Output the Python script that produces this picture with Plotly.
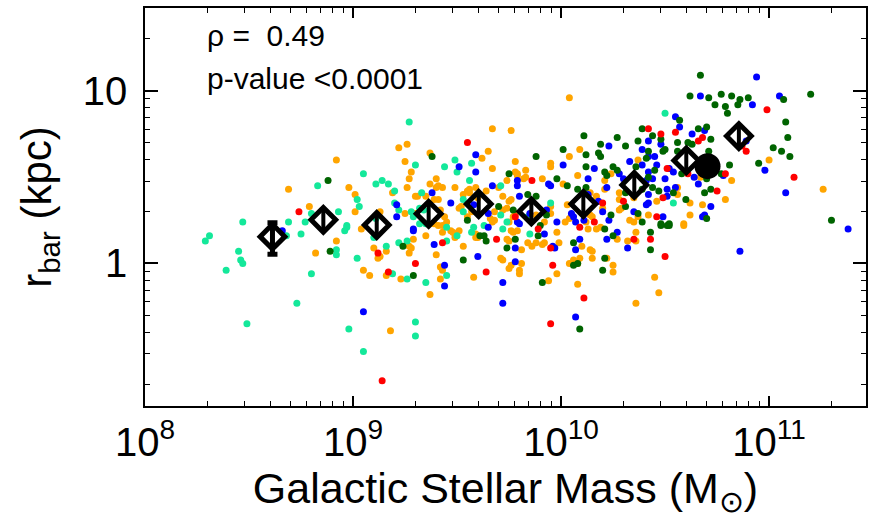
import plotly.graph_objects as go

# ---- scatter data (log10 stellar mass [Msun], log10 r_bar [kpc]) ----
orange_logm = [9.26,9.22,8.92,9.25,9.28,9.27,9.26,8.98,9.01,9.19,8.69,9.30,9.25,9.01,8.79,9.13,
    8.82,8.92,9.04,9.05,9.08,9.10,9.13,9.12,9.16,9.16,9.27,9.28,9.27,9.29,9.23,9.18,
    9.37,9.40,9.37,9.40,9.43,9.41,9.49,9.56,9.59,9.35,9.31,9.39,9.41,9.51,9.53,9.30,9.35,9.41,9.43,9.39,9.43,9.47,9.49,9.49,9.53,9.59,9.58,9.40,9.43,9.42,9.42,9.37,
    10.04,9.67,9.76,10.09,10.04,9.95,9.95,10.37,9.62,9.65,9.67,9.78,9.83,9.78,9.79,9.79,9.74,9.82,9.91,10.01,10.08,10.14,10.21,10.24,10.21,10.28,10.29,10.35,10.37,
    9.75,9.76,9.72,9.70,9.64,9.60,9.68,9.72,9.74,9.77,9.78,9.75,9.68,9.67,9.66,9.88,9.95,9.95,9.92,10.03,10.02,10.04,10.17,10.20,10.28,10.28,10.15,10.14,10.12,10.33,10.35,
    9.55,9.56,9.52,9.55,9.57,9.42,9.44,9.45,9.83,
    9.59,9.60,9.48,9.51,9.71,9.72,9.75,9.76,9.80,9.81,9.80,9.74,9.75,9.77,9.79,9.76,9.81,9.84,9.86,9.88,9.91,9.92,9.99,9.98,9.98,9.94,
    10.04,10.06,10.08,10.09,10.10,10.08,10.14,10.15,10.15,10.13,10.17,10.19,10.22,10.25,10.25,10.27,10.32,10.36,10.36,10.36,
    11.00,11.26,10.67,10.82,10.56,10.56,10.46,10.62,10.79,10.68,10.62,10.59,10.42,10.45,10.47,10.59]
orange_logr = [0.69,0.67,0.60,0.59,0.53,0.49,0.44,0.44,0.40,0.41,0.43,0.39,0.29,0.30,0.33,0.30,
    0.06,0.13,0.20,-0.04,-0.07,0.09,0.04,0.03,0.07,-0.07,0.10,0.09,0.06,0.14,-0.09,-0.39,
    0.64,0.49,0.46,0.44,0.44,0.45,0.44,0.43,0.44,0.39,0.39,0.37,0.37,0.32,0.40,0.29,0.16,0.22,0.22,0.23,0.18,0.19,0.17,0.15,0.10,0.15,-0.08,0.05,-0.04,-0.02,-0.09,-0.18,
    0.96,0.78,0.77,0.66,0.62,0.58,0.56,0.60,0.61,0.65,0.55,0.59,0.54,0.53,0.52,0.51,0.48,0.49,0.49,0.46,0.51,0.41,0.48,0.52,0.43,0.41,0.32,0.38,0.27,
    0.36,0.37,0.39,0.44,0.42,0.38,0.30,0.31,0.32,0.27,0.29,0.24,0.25,0.24,0.26,0.28,0.33,0.29,0.24,0.34,0.24,0.26,0.39,0.32,0.37,0.31,0.27,0.28,0.24,0.25,0.24,
    0.42,0.41,0.33,0.27,0.30,0.31,0.27,0.24,0.50,
    0.17,0.15,0.18,0.19,0.03,0.02,-0.03,-0.01,-0.04,0.00,-0.06,0.14,0.13,0.18,0.19,0.19,0.08,0.12,0.10,0.12,0.11,0.12,0.12,0.18,-0.06,-0.10,
    0.00,0.02,0.00,0.03,0.10,-0.12,0.08,0.07,0.03,0.20,0.20,0.21,0.03,-0.01,-0.05,0.14,0.13,0.13,0.18,-0.23,
    0.60,0.43,0.50,0.48,0.44,0.40,0.36,0.35,0.37,0.34,0.28,0.23,0.28,-0.08,-0.17,0.22]

sgreen_logm = [9.27,9.30,9.05,8.83,9.11,9.14,9.17,9.02,9.20,9.20,9.22,9.03,8.93,8.80,8.69,8.77,8.47,8.97,9.28,9.29,9.11,
    8.31,8.29,8.68,8.75,8.45,8.46,8.47,8.39,8.80,8.92,8.92,8.96,8.97,9.02,9.10,9.16,9.19,9.22,9.26,9.26,8.73,8.49,8.98,9.30,9.30,9.05,
    9.44,9.50,9.49,9.57,9.56,9.53,9.32,9.34,9.35,9.32,9.45,9.45,9.50,9.45,9.35,9.33,
    9.71,9.71,9.74,9.84,9.95,9.57,9.85,10.50,10.54,9.53,9.58,9.63,9.72]
sgreen_logr = [0.82,0.57,0.52,0.45,0.46,0.48,0.46,0.37,0.42,0.35,0.31,0.33,0.30,0.29,0.24,0.24,0.24,0.22,0.30,0.27,0.26,
    0.16,0.13,0.16,0.17,0.07,0.02,0.00,-0.04,-0.06,0.08,0.05,0.19,0.21,0.03,0.15,0.10,-0.06,0.12,0.13,-0.09,-0.23,-0.35,-0.38,-0.34,-0.42,-0.51,
    0.56,0.53,0.60,0.58,0.48,0.30,0.32,0.31,0.23,0.23,0.21,0.13,0.16,-0.07,-0.11,0.41,
    0.45,0.28,0.24,0.27,0.35,0.18,0.17,0.87,0.35,0.37,0.21,0.22,0.20]

blue_logm = [9.21,9.21,8.66,9.29,9.05,
    9.51,9.59,9.59,9.38,9.47,9.29,9.39,9.60,9.44,9.44,
    10.23,10.39,10.01,10.16,10.33,10.39,9.79,9.79,9.94,9.95,10.13,10.22,10.28,10.30,10.35,9.80,9.67,9.65,9.79,9.80,9.85,9.93,9.98,10.13,10.18,10.20,10.05,10.06,10.11,10.07,10.23,9.58,
    9.72,9.72,9.78,9.78,9.92,9.97,9.96,10.09,10.07,10.07,10.27,10.22,10.32,
    10.94,10.67,10.92,11.05,10.98,11.08,10.55,10.57,10.63,10.69,10.89,10.42,10.48,10.42,10.45,10.46,10.42,10.52,10.54,10.64,10.66,10.78,10.50,10.51,10.55,10.51,10.42,10.42,10.41,10.72,10.68,10.69,10.49,10.41,10.44,
    11.38,10.86,9.65]
blue_logr = [0.34,0.27,0.19,0.19,-0.28,
    0.56,0.63,0.53,0.41,0.35,0.20,0.11,0.04,-0.01,-0.13,
    0.68,0.66,0.57,0.55,0.59,0.57,0.48,0.45,0.46,0.45,0.49,0.44,0.52,0.49,0.30,0.39,0.45,0.29,0.24,0.23,0.29,0.31,0.24,0.40,0.36,0.30,0.29,0.27,0.25,0.24,0.25,0.34,
    -0.11,-0.23,0.01,0.09,0.17,0.09,0.10,0.14,0.08,-0.31,0.18,0.14,0.09,
    1.08,0.97,0.92,0.97,0.54,0.41,0.85,0.79,0.75,0.77,0.71,0.71,0.69,0.62,0.62,0.57,0.53,0.55,0.53,0.50,0.46,0.51,0.49,0.43,0.44,0.39,0.40,0.35,0.34,0.33,0.27,0.28,0.27,0.48,0.49,
    0.20,0.07,0.21]

dgreen_logm = [8.88,8.89,9.24,9.29,9.38,9.55,9.53,
    10.11,10.01,10.19,10.27,10.31,10.39,10.37,10.12,10.18,10.19,9.88,10.12,10.21,10.25,10.36,9.75,9.98,10.03,10.12,10.22,10.27,10.31,10.31,10.39,10.37,10.39,9.88,9.84,9.70,9.93,10.08,10.24,
    9.91,9.64,9.61,9.63,9.74,9.78,10.06,10.08,10.06,10.09,10.21,10.21,10.20,10.25,
    10.67,10.62,10.71,10.77,10.82,10.86,10.85,10.90,10.74,10.79,10.80,11.07,11.20,11.08,11.09,11.06,11.02,11.10,10.95,11.30,
    10.57,10.66,10.70,10.72,10.61,10.63,10.56,10.44,10.48,10.50,10.49,10.56,10.71,10.42,10.41,10.45,10.58,10.70,10.77,10.81,10.42,10.47,10.54,10.60,10.69,10.72,10.70,10.48,10.52,
    10.43,10.43,10.48,10.51,10.52,10.44,9.90,9.77,9.89]
dgreen_logr = [0.48,0.07,0.10,-0.07,0.62,0.25,0.02,
    0.74,0.66,0.69,0.73,0.68,0.78,0.71,0.63,0.64,0.62,0.62,0.56,0.53,0.56,0.56,0.52,0.49,0.45,0.44,0.51,0.54,0.41,0.33,0.43,0.29,0.24,0.39,0.40,0.33,0.28,0.43,0.28,
    -0.11,0.13,0.16,0.16,0.09,0.14,-0.01,0.00,0.12,-0.38,0.20,0.03,-0.04,0.16,
    1.09,0.97,0.96,0.98,0.97,0.95,0.92,0.96,0.92,0.91,0.87,0.95,0.98,0.82,0.73,0.65,0.67,0.62,0.58,0.25,
    0.83,0.78,0.79,0.72,0.70,0.69,0.70,0.74,0.72,0.66,0.65,0.65,0.65,0.65,0.61,0.54,0.52,0.49,0.52,0.57,0.50,0.42,0.41,0.37,0.41,0.43,0.26,0.23,0.23,
    0.18,0.08,0.22,0.22,0.22,0.44,0.22,0.31,0.16]

red_logm = [8.74,9.12,9.17,9.30,9.14,9.55,9.43,
    9.86,10.30,9.78,10.20,10.16,
    9.64,9.69,9.89,9.95,9.96,9.95,10.11,10.35,
    10.99,10.42,10.48,10.55,10.68,10.66,10.87,10.89,10.51,10.61,10.79,11.12,10.75,10.49,10.46,
    10.43,10.50,10.09]
red_logr = [0.30,0.06,-0.05,0.00,-0.68,0.70,0.12,
    0.48,0.36,0.27,0.35,0.24,
    -0.05,0.14,0.20,0.09,-0.01,-0.35,-0.20,0.14,
    0.89,0.78,0.75,0.76,0.73,0.71,0.68,0.65,0.55,0.52,0.52,0.50,0.42,0.38,0.27,
    0.14,0.04,0.21]

# ---- binned medians ----
bin_mass = [4.1e8, 7.2e8, 1.3e9, 2.31e9, 4.02e9, 7.2e9, 1.28e10, 2.25e10, 4.0e10, 7.16e10]
bin_r = [1.43, 1.79, 1.67, 1.94, 2.21, 2.00, 2.21, 2.85, 3.95, 5.47]
bin_err_up = [0.29, 0.26, 0.25, 0.29, 0.33, 0.30, 0.33, 0.42, 0.58, 0.81]
bin_err_dn = [0.30, 0.23, 0.22, 0.25, 0.29, 0.26, 0.29, 0.37, 0.51, 0.71]
big_mass = [5.06e10]
big_r = [3.66]

rho_text = "ρ =  0.49"
pval_text = "p-value <0.0001"

xtick_vals = [1e8, 1e9, 1e10, 1e11]
xtick_text = ["10<sup>8</sup>", "10<sup>9</sup>", "10<sup>10</sup>", "10<sup>11</sup>"]
ytick_vals = [1, 10]
ytick_text = ["1", "10"]

FONT = "Liberation Sans, Arial, Helvetica, sans-serif"

def lin(v):
    return [10 ** a for a in v]

fig = go.Figure()
series = [
    (orange_logm, orange_logr, "#FFA500"),
    (sgreen_logm, sgreen_logr, "#14E89A"),
    (blue_logm, blue_logr, "#0000FF"),
    (dgreen_logm, dgreen_logr, "#006400"),
    (red_logm, red_logr, "#FF0000"),
]
for lm, lr, col in series:
    fig.add_trace(go.Scatter(x=lin(lm), y=lin(lr), mode="markers",
                             marker=dict(size=7, color=col, line=dict(width=0)),
                             showlegend=False, hoverinfo="skip"))

fig.add_trace(go.Scatter(x=big_mass, y=big_r, mode="markers",
                         marker=dict(size=26, color="black"), showlegend=False))

diamond = dict(symbol="diamond-open", size=19, color="black", line=dict(width=5, color="black"))
# first bin: error bar with caps at the diamond's tips
fig.add_trace(go.Scatter(x=bin_mass[:1], y=bin_r[:1], mode="markers", marker=diamond,
                         error_y=dict(type="data", symmetric=False, array=bin_err_up[:1],
                                      arrayminus=bin_err_dn[:1], color="black",
                                      thickness=5, width=5),
                         showlegend=False))
# remaining bins: error bars inside the diamond
fig.add_trace(go.Scatter(x=bin_mass[1:], y=bin_r[1:], mode="markers", marker=diamond,
                         error_y=dict(type="data", symmetric=False, array=bin_err_up[1:],
                                      arrayminus=bin_err_dn[1:], color="black",
                                      thickness=4, width=0),
                         showlegend=False))

minor_x = [k * 10 ** e for e in range(8, 12) for k in range(2, 10)]
minor_y = [k * 10 ** e for e in range(-1, 2) for k in range(2, 10)]

fig.update_xaxes(type="log", range=[8, 11.466], showgrid=False, zeroline=False,
                 showline=True, linecolor="black", linewidth=1.5, mirror="allticks",
                 ticks="inside", ticklen=10, tickwidth=1.5, tickcolor="black",
                 tickmode="array", tickvals=xtick_vals, ticktext=xtick_text,
                 tickfont=dict(family=FONT, size=40, color="black"),
                 minor=dict(ticks="inside", ticklen=5, tickwidth=1.2, tickcolor="black",
                            tickmode="array", tickvals=minor_x, showgrid=False),
                 title=dict(text="Galactic Stellar Mass (M<sub>⊙</sub>)",
                            font=dict(family=FONT, size=43, color="black"), standoff=6))
fig.update_yaxes(type="log", range=[-0.826, 1.48], showgrid=False, zeroline=False,
                 showline=True, linecolor="black", linewidth=1.5, mirror="allticks",
                 ticks="inside", ticklen=13, tickwidth=1.5, tickcolor="black",
                 tickmode="array", tickvals=ytick_vals, ticktext=ytick_text,
                 tickfont=dict(family=FONT, size=40, color="black"),
                 minor=dict(ticks="inside", ticklen=5, tickwidth=1.2, tickcolor="black",
                            tickmode="array", tickvals=minor_y, showgrid=False),
                 ticklabelstandoff=8,
                 title=dict(text="r<sub>bar</sub> (kpc)",
                            font=dict(family=FONT, size=42, color="black"), standoff=18))

fig.add_annotation(xref="paper", yref="paper", x=0.083, y=0.93, xanchor="left", yanchor="middle",
                   text=rho_text, showarrow=False, font=dict(family=FONT, size=30, color="black"))
fig.add_annotation(xref="paper", yref="paper", x=0.083, y=0.822, xanchor="left", yanchor="middle",
                   text=pval_text, showarrow=False, font=dict(family=FONT, size=30, color="black"))

fig.update_layout(width=875, height=520, margin=dict(l=145, r=9, t=6, b=114),
                  paper_bgcolor="white", plot_bgcolor="white", showlegend=False)

fig.write_html("out.html")
